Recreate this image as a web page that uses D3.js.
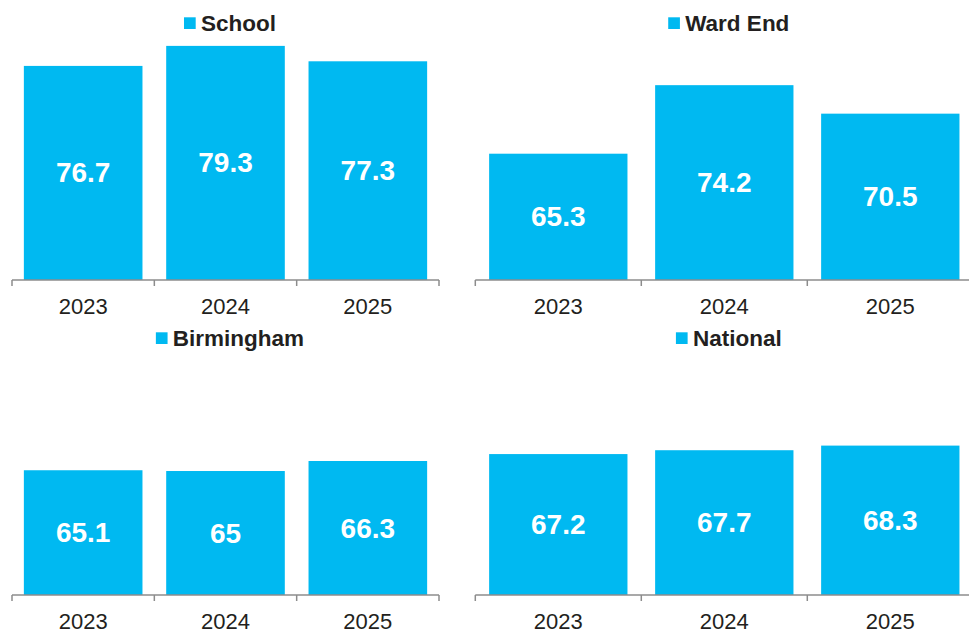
<!DOCTYPE html>
<html>
<head>
<meta charset="utf-8">
<script src="https://cdn.jsdelivr.net/npm/d3@7"></script>
<style>
  html, body { margin: 0; padding: 0; background: #fff; }
  svg { display: block; font-family: "Liberation Sans", Arial, sans-serif; }
</style>
</head>
<body>
<svg id="chart" width="969" height="631"></svg>
<script>
// ---- data ----
const years = ["2023", "2024", "2025"];
const seriesNames = ["School", "Ward End", "Birmingham", "National"];
const schoolValues = [76.7, 79.3, 77.3];
const wardEndValues = [65.3, 74.2, 70.5];
const birminghamValues = [65.1, 65, 66.3];
const nationalValues = [67.2, 67.7, 68.3];
const valueLabels = [
  ["76.7", "79.3", "77.3"],
  ["65.3", "74.2", "70.5"],
  ["65.1", "65", "66.3"],
  ["67.2", "67.7", "68.3"]
];
const allValues = [schoolValues, wardEndValues, birminghamValues, nationalValues];

// ---- layout ----
const panels = [
  { x0: 12,    x1: 439,   base: 280, top: 40.5 },
  { x0: 475.3, x1: 973.3, base: 280, top: 40.5 },
  { x0: 12,    x1: 439,   base: 595, top: 355.5 },
  { x0: 475.3, x1: 973.3, base: 595, top: 355.5 }
];
const barColor = "#00B9F1";
const axisColor = "#8C8C8C";
const textColor = "#231F20";

const svg = d3.select("#chart");

panels.forEach((p, i) => {
  const data = years.map((yr, j) => ({ year: yr, value: allValues[i][j], label: valueLabels[i][j] }));
  const x = d3.scaleBand().domain(years).range([p.x0, p.x1]).paddingInner(1/6).paddingOuter(1/12);
  const y = d3.scaleLinear().domain([48.9, 80]).range([p.base, p.top]);

  const g = svg.append("g");

  // bars
  g.selectAll("rect.bar").data(data).enter().append("rect")
    .attr("class", "bar")
    .attr("x", d => x(d.year))
    .attr("width", x.bandwidth())
    .attr("y", d => y(d.value))
    .attr("height", d => y.range()[0] - y(d.value))
    .attr("fill", barColor);

  // value labels
  g.selectAll("text.val").data(data).enter().append("text")
    .attr("class", "val")
    .attr("x", d => x(d.year) + x.bandwidth() / 2)
    .attr("y", d => (y(d.value) + y.range()[0]) / 2 + 9.5)
    .attr("text-anchor", "middle")
    .attr("font-size", 28)
    .attr("font-weight", "bold")
    .attr("fill", "#fff")
    .text(d => d.label);

  // axis line and category-boundary ticks
  const axisG = g.append("g").attr("transform", `translate(0,${p.base})`);
  axisG.append("line")
    .attr("x1", p.x0).attr("x2", p.x1)
    .attr("y1", 0).attr("y2", 0)
    .attr("stroke", axisColor).attr("stroke-width", 1.5);
  const bounds = years.map(yv => x(yv) - x.step() * x.paddingInner() / 2).concat([p.x1]);
  axisG.selectAll("line.tk").data(bounds).enter().append("line")
    .attr("class", "tk")
    .attr("x1", d => d).attr("x2", d => d)
    .attr("y1", 0).attr("y2", 6)
    .attr("stroke", axisColor).attr("stroke-width", 1.5);

  // category labels through d3 axis
  const ax = d3.axisBottom(x).tickSize(0).tickPadding(18);
  const labG = g.append("g").attr("transform", `translate(0,${p.base})`).call(ax);
  labG.select(".domain").remove();
  labG.selectAll("text")
    .attr("font-size", 22)
    .attr("font-family", "Liberation Sans, Arial, sans-serif")
    .attr("fill", textColor);

  // legend
  const cx = (p.x0 + p.x1) / 2 + 4.5;
  const leg = g.append("g");
  const sq = leg.append("rect")
    .attr("width", 11.7).attr("height", 11.7)
    .attr("fill", barColor);
  const lt = leg.append("text")
    .attr("font-size", 22.5)
    .attr("font-weight", "bold")
    .attr("fill", textColor)
    .text(seriesNames[i]);
  const tw = lt.node().getComputedTextLength();
  const total = 11.7 + 5.3 + tw;
  const left = cx - total / 2;
  const baseY = p.top - 9.5;
  sq.attr("x", left).attr("y", baseY - 13.7);
  lt.attr("x", left + 17).attr("y", baseY);
});
</script>
</body>
</html>
